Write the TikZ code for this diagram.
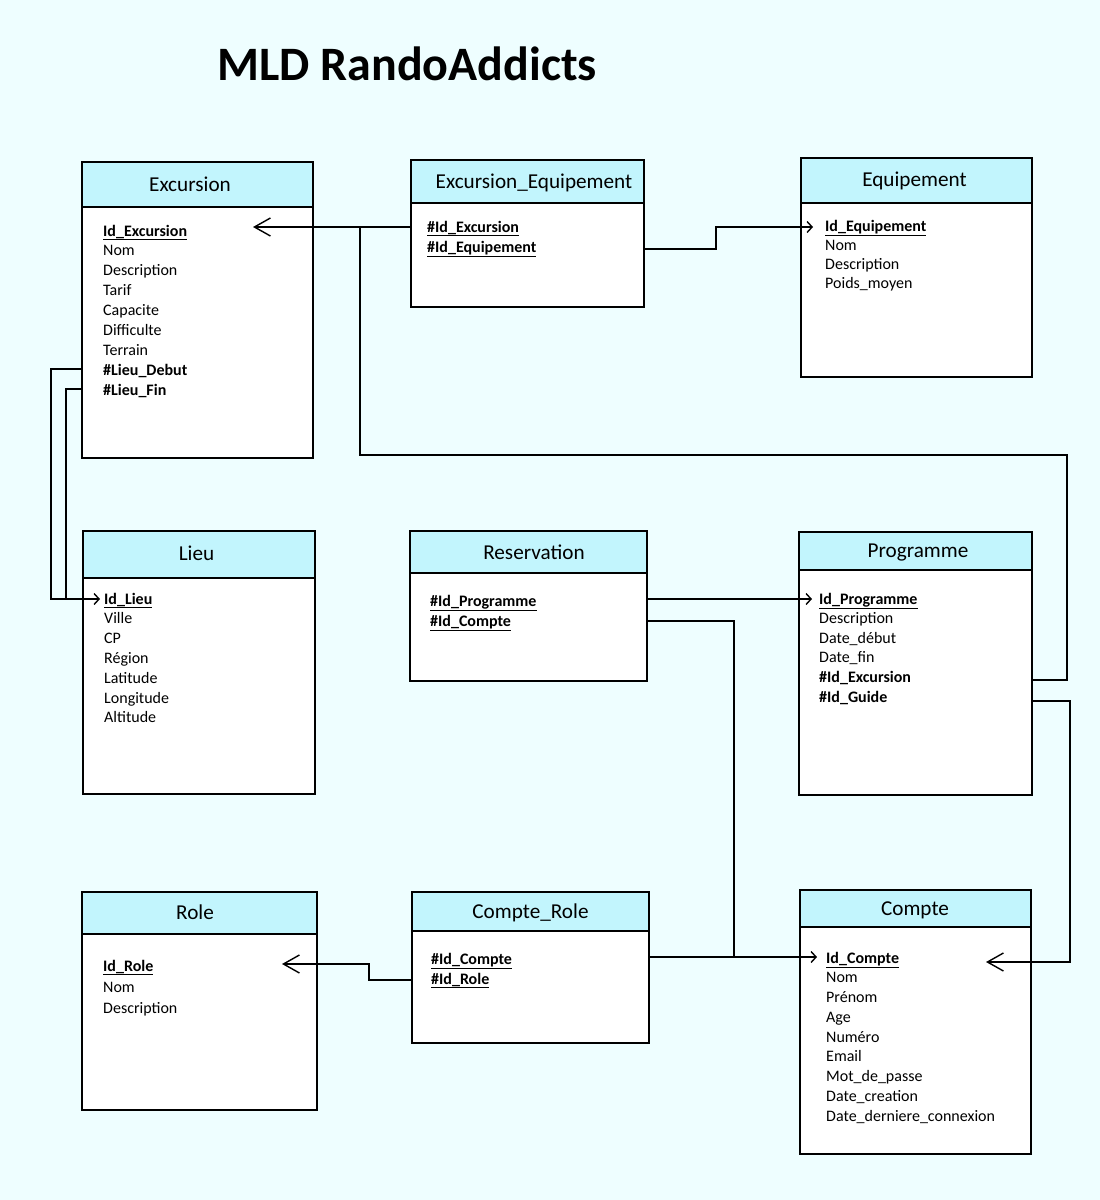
\documentclass[tikz,border=0pt]{standalone}
\usepackage{fontspec}
\setmainfont{Carlito}
\usetikzlibrary{arrows.meta,fit}
\definecolor{bgc}{HTML}{EEFEFF}
\definecolor{hdrc}{HTML}{C2F5FD}
\newcommand\pkey[1]{\underline{\textbf{#1}}}
\newcommand\fkey[1]{\textbf{#1}}
\newcommand\attrlist[5]{\foreach \t [count=\i] in {#5} {\node[attr] (#1-\i) at (#2,{#3+1+(\i-1)*#4}) {\t};}}
\begin{document}
\begin{tikzpicture}[x=1pt,y=-1pt,
  ebox/.style={draw=black, line width=1.8pt, fill=white, inner sep=0pt},
  ehead/.style={draw=black, line width=1.8pt, fill=hdrc, inner sep=0pt},
  etitle/.style={font=\fontsize{21.2}{25}\selectfont, inner sep=0pt, text height=14pt, text depth=4pt, anchor=center, yshift=-1.5pt},
  attr/.style={font=\fontsize{16}{19}\selectfont, inner sep=0pt, text height=11pt, text depth=3pt, anchor=west},
  conn/.style={draw=black, line width=1.4pt},
  bigarrow/.style={-{Straight Barb[length=16pt,width=18pt,line width=1.4pt]}},
  smallarrow/.style={-{Straight Barb[length=5pt,width=11pt,line width=1.4pt]}}]
\fill[bgc] (0,0) rectangle (1100,1200);
\useasboundingbox (0,0) rectangle (1100,1200);

\node[font=\fontsize{48}{56}\selectfont\bfseries, inner sep=0pt] (title) at (407,64) {MLD RandoAddicts};

% entities
\node[ebox, fit={(82,162) (313,458)}] (exc) {};
\node[ehead, fit={(82,162) (313,207)}] (exc-h) {};
\node[etitle] (exc-t) at (190,185) {Excursion};

\node[ebox, fit={(411,160) (644,307)}] (ee) {};
\node[ehead, fit={(411,160) (644,203)}] (ee-h) {};
\node[etitle] (ee-t) at (534,182) {Excursion\_Equipement};

\node[ebox, fit={(801,158) (1032,377)}] (eq) {};
\node[ehead, fit={(801,158) (1032,203)}] (eq-h) {};
\node[etitle] (eq-t) at (914.5,180) {Equipement};

\node[ebox, fit={(83,531) (315,794)}] (lieu) {};
\node[ehead, fit={(83,531) (315,578)}] (lieu-h) {};
\node[etitle] (lieu-t) at (196.5,554) {Lieu};

\node[ebox, fit={(410,531) (647,681)}] (res) {};
\node[ehead, fit={(410,531) (647,573)}] (res-h) {};
\node[etitle] (res-t) at (534,553) {Reservation};

\node[ebox, fit={(799,532) (1032,795)}] (prog) {};
\node[ehead, fit={(799,532) (1032,570)}] (prog-h) {};
\node[etitle] (prog-t) at (918,551) {Programme};

\node[ebox, fit={(82,892) (317,1110)}] (role) {};
\node[ehead, fit={(82,892) (317,934)}] (role-h) {};
\node[etitle] (role-t) at (195,913) {Role};

\node[ebox, fit={(412,892) (649,1043)}] (cr) {};
\node[ehead, fit={(412,892) (649,931)}] (cr-h) {};
\node[etitle] (cr-t) at (530.5,912) {Compte\_Role};

\node[ebox, fit={(800,890) (1031,1154)}] (cpt) {};
\node[ehead, fit={(800,890) (1031,927)}] (cpt-h) {};
\node[etitle] (cpt-t) at (915,909) {Compte};

% attributes
\attrlist{exca}{103}{231}{19.875}{{\pkey{Id\_Excursion}},Nom,Description,Tarif,Capacite,Difficulte,Terrain,{\fkey{\#Lieu\_Debut}},{\fkey{\#Lieu\_Fin}}}
\attrlist{eea}{427}{227}{20}{{\pkey{\#Id\_Excursion}},{\pkey{\#Id\_Equipement}}}
\attrlist{eqa}{825}{226}{19.33}{{\pkey{Id\_Equipement}},Nom,Description,Poids\_moyen}
\attrlist{lieua}{104}{599}{19.83}{{\pkey{Id\_Lieu}},Ville,CP,Région,Latitude,Longitude,Altitude}
\attrlist{resa}{430}{601}{20}{{\pkey{\#Id\_Programme}},{\pkey{\#Id\_Compte}}}
\attrlist{proga}{819}{599}{19.6}{{\pkey{Id\_Programme}},Description,Date\_début,Date\_fin,{\fkey{\#Id\_Excursion}},{\fkey{\#Id\_Guide}}}
\attrlist{rolea}{103}{966}{21}{{\pkey{Id\_Role}},Nom,Description}
\attrlist{cra}{431}{959}{20}{{\pkey{\#Id\_Compte}},{\pkey{\#Id\_Role}}}
\attrlist{cpta}{826}{958}{19.75}{{\pkey{Id\_Compte}},Nom,Prénom,Age,Numéro,Email,Mot\_de\_passe,Date\_creation,Date\_derniere\_connexion}

% arrow tips and bends
\coordinate (tExc) at (253,227);
\coordinate (tEq) at (813,227);
\coordinate (tLieu) at (100,599);
\coordinate (tProg) at (812,599);
\coordinate (tCpt) at (817,957);
\coordinate (tRole) at (282,964);
\coordinate (tCpt2) at (986,962);
\coordinate (jExc) at (360,227);
\coordinate (jCpt) at (734,957);

% connectors
\draw[conn] (ee.west |- tExc) -- (jExc);
\draw[conn,bigarrow] (prog.east |- 0,680) -| (1067,455) -| (jExc) -- (tExc);
\draw[conn,smallarrow] (ee.east |- 0,249) -- (716,249) -- (716,227) -- (tEq);
\draw[conn,smallarrow] (exc.west |- 0,369) -| (51,599) -- (tLieu);
\draw[conn] (exc.west |- 0,389) -| (66,599);
\draw[conn,smallarrow] (res.east |- tProg) -- (tProg);
\draw[conn] (res.east |- 0,621) -| (jCpt);
\draw[conn,smallarrow] (cr.east |- tCpt) -- (tCpt);
\draw[conn,bigarrow] (cr.west |- 0,980) -| (369,964) -- (tRole);
\draw[conn,bigarrow] (prog.east |- 0,701) -| (1070,962) -- (tCpt2);
\end{tikzpicture}
\end{document}
